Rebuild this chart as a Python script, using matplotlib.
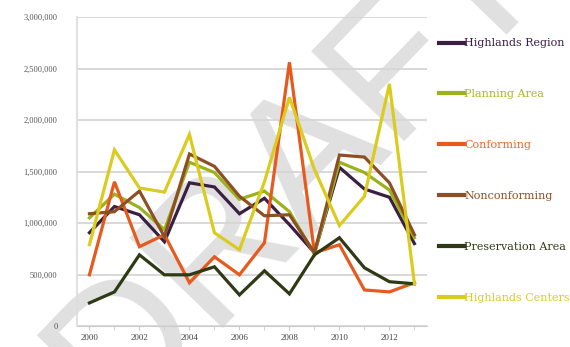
import matplotlib
matplotlib.use("Agg")
import matplotlib.pyplot as plt
from matplotlib.lines import Line2D

years = list(range(2000, 2014))
highlands_region = [906000, 1160000, 1080000, 818000, 1390000, 1350000, 1090000, 1240000, 984000, 711000, 1540000, 1330000, 1250000, 800000]
planning_area = [1050000, 1280000, 1150000, 935000, 1590000, 1490000, 1230000, 1310000, 1110000, 700000, 1590000, 1490000, 1320000, 857000]
conforming = [497000, 1400000, 770000, 886000, 420000, 672000, 497000, 808000, 2560000, 711000, 789000, 350000, 331000, 420000]
nonconforming = [1090000, 1110000, 1310000, 867000, 1670000, 1550000, 1260000, 1070000, 1080000, 711000, 1660000, 1640000, 1390000, 886000]
preservation_area = [224000, 331000, 691000, 497000, 497000, 575000, 302000, 536000, 312000, 691000, 857000, 565000, 430000, 410000]
highlands_centers = [790000, 1710000, 1340000, 1300000, 1860000, 905000, 740000, 1400000, 2220000, 1520000, 975000, 1260000, 2350000, 410000]

series_names = ["Highlands Region", "Planning Area", "Conforming", "Nonconforming",
                "Preservation Area", "Highlands Centers"]
series_values = [highlands_region, planning_area, conforming, nonconforming,
                 preservation_area, highlands_centers]
colors = ["#3b1f43", "#9bb11e", "#e65a1e", "#8e4f22", "#2f3a14", "#dccb1f"]
text_colors = ["#3b1f43", "#a5b826", "#e8682e", "#8e4f22", "#2f3a14", "#d9cb2a"]

yticks = [0, 500000, 1000000, 1500000, 2000000, 2500000, 3000000]
ytick_labels = ["0", "500,000", "1,000,000", "1,500,000", "2,000,000", "2,500,000", "3,000,000"]
xticks = [2000, 2002, 2004, 2006, 2008, 2010, 2012]

serif = ["Liberation Serif", "DejaVu Serif"]

fig = plt.figure(figsize=(5.70, 3.47), dpi=100)
ax = fig.add_axes([0.135, 0.0605, 0.614, 0.8905])

# watermark
ax.text(0.52, 0.52, "DRAFT", transform=fig.transFigure, fontsize=135,
        family="Liberation Sans", color="#e0e0e0", rotation=46,
        ha="center", va="center", rotation_mode="anchor",
        zorder=0.5, clip_on=False)

for name, vals, c in zip(series_names, series_values, colors):
    ax.plot(years, vals, color=c, lw=2.3, zorder=3, solid_joinstyle="miter")

ax.set_xlim(1999.5, 2013.5)
ax.set_ylim(0, 3000000)
ax.set_yticks(yticks)
ax.set_yticklabels(ytick_labels, family=serif, fontsize=6, color="#555555")
ax.set_xticks(xticks)
ax.set_xticklabels([str(x) for x in xticks], family=serif, fontsize=6.5, color="#444444")
ax.set_xticks(years, minor=True)
ax.tick_params(axis="y", length=0, pad=14)
ax.tick_params(axis="x", which="both", length=3, color="#cccccc", pad=3)
ax.grid(axis="y", color="#d5d5d5", lw=1.3, zorder=1)
ax.set_axisbelow(True)
for s in ["top", "right"]:
    ax.spines[s].set_visible(False)
ax.spines["left"].set_color("#dddddd")
ax.spines["bottom"].set_color("#cccccc")
ax.spines["left"].set_linewidth(1.3)
ax.patch.set_alpha(0)

handles = [Line2D([0], [0], color=c, lw=3) for c in colors]
leg = fig.legend(handles, series_names, loc="upper left",
                 bbox_to_anchor=(0.752, 0.918), frameon=False,
                 prop={"family": "DejaVu Serif", "size": 8},
                 handlelength=2.3, handletextpad=0.0, labelspacing=3.68)
for t, c in zip(leg.get_texts(), text_colors):
    t.set_color(c)

fig.savefig("out.png", dpi=100)
